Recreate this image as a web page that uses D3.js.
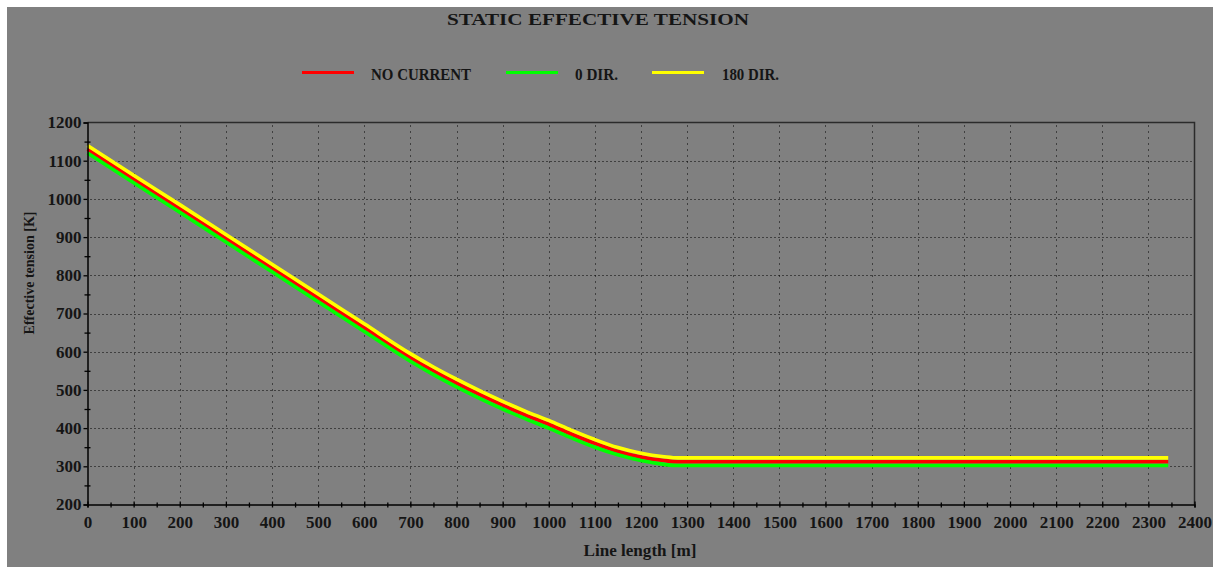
<!DOCTYPE html>
<html>
<head>
<meta charset="utf-8">
<script src="https://cdn.jsdelivr.net/npm/d3@7"></script>
<style>
    body { margin: 0; background: #ffffff; }
    svg text { font-family: "Liberation Serif", "Times New Roman", serif; font-weight: bold; fill: #151515; }
</style>
</head>
<body>
<div id="chart"></div>
<script>
// line length [m]
var lengths = [0, 100, 200, 300, 400, 500, 600, 700, 750, 800, 850, 900, 950, 1000, 1050, 1100, 1150, 1200, 1250, 1280, 2343];
// effective tension [K]
var noCurrent = [1130, 1052, 975, 897, 819, 741, 663, 585, 550, 518, 488, 460, 434, 410, 384, 360, 339, 324, 315, 312, 312];
var dir0 = [1120, 1042, 965, 887, 809, 731, 653, 575, 540, 508, 478, 450, 424, 400, 374, 350, 330, 315, 305, 302, 302];
var dir180 = [1140, 1062, 985, 907, 829, 751, 673, 595, 560, 528, 498, 470, 444, 420, 394, 370, 349, 334, 325, 322, 322];

var seriesNames = ["NO CURRENT", "0 DIR.", "180 DIR."];
var seriesColors = ["#ff0000", "#00ff00", "#ffff00"];

var xTicks = d3.range(0, 2401, 100);
var yTicks = d3.range(200, 1201, 100);

var w = 1213;
var h = 567;
var padLeft = 87.5, padTop = 122.5, padRight = 1194.5, padBottom = 504.5;

var svg = d3.select("#chart").append("svg")
    .attr("width", w)
    .attr("height", h);

// gray panel
svg.append("rect")
    .attr("x", 7)
    .attr("y", 7)
    .attr("width", w - 7)
    .attr("height", h - 7)
    .style("fill", "#808080");

var xScale = d3.scaleLinear([0, 2400], [padLeft, padRight]);
var yScale = d3.scaleLinear([200, 1200], [padBottom, padTop]);

// grid
svg.append("g").selectAll("line")
    .data(xTicks.filter(d => d > 0 && d < 2400))
    .join("line")
    .attr("x1", d => Math.round(xScale(d)) + 0.5)
    .attr("x2", d => Math.round(xScale(d)) + 0.5)
    .attr("y1", padTop + 3)
    .attr("y2", padBottom)
    .style("stroke", "#000")
    .style("stroke-dasharray", "1 5");

svg.append("g").selectAll("line")
    .data(yTicks.filter(d => d > 200 && d < 1200))
    .join("line")
    .attr("x1", padLeft + 3)
    .attr("x2", padRight - 3)
    .attr("y1", d => Math.round(yScale(d)) + 0.5)
    .attr("y2", d => Math.round(yScale(d)) + 0.5)
    .style("stroke", "#000")
    .style("stroke-dasharray", "1 3");

// frame top / right
svg.append("path")
    .attr("d", "M" + padLeft + "," + padTop + "H" + padRight + "V" + padBottom)
    .style("fill", "none")
    .style("stroke", "#2b2b2b")
    .style("stroke-width", 1.5);

// series
var allSeries = [noCurrent, dir0, dir180];
var line = d3.line()
    .x((d, i) => xScale(lengths[i]))
    .y(d => yScale(d))
    .curve(d3.curveMonotoneX);

svg.append("g").selectAll("path")
    .data(allSeries)
    .join("path")
    .attr("d", d => line(d))
    .style("fill", "none")
    .style("stroke", (d, i) => seriesColors[i])
    .style("stroke-width", 3.6);

// axes
var xAxis = d3.axisBottom(xScale)
    .tickValues(xTicks)
    .tickFormat(d3.format("d"))
    .tickSize(3)
    .tickPadding(8);

var xMinor = d3.axisBottom(xScale)
    .tickValues(d3.range(50, 2400, 100))
    .tickSize(3)
    .tickFormat("");

var yAxis = d3.axisLeft(yScale)
    .tickValues(yTicks)
    .tickFormat(d3.format("d"))
    .tickSize(4)
    .tickPadding(2);

var yMinor = d3.axisLeft(yScale)
    .tickValues(d3.range(250, 1200, 100))
    .tickSize(3)
    .tickFormat("");

function styleAxis(g) {
    g.select(".domain").style("stroke", "#000").style("stroke-width", 1.5);
    g.selectAll(".tick line").style("stroke", "#000").style("stroke-width", 1.3);
    g.selectAll(".tick text").style("font-size", "17px").style("fill", "#151515")
        .style("font-family", "'Liberation Serif', serif").style("font-weight", "bold");
}

svg.append("g")
    .attr("transform", "translate(0," + padBottom + ")")
    .call(xAxis)
    .call(styleAxis)
    .selectAll(".tick line").attr("y1", -3);

svg.append("g")
    .attr("transform", "translate(0," + padBottom + ")")
    .call(xMinor)
    .call(styleAxis)
    .call(g => g.select(".domain").remove())
    .selectAll(".tick line").attr("y1", -2);

svg.append("g")
    .attr("transform", "translate(" + padLeft + ",0)")
    .call(yAxis)
    .call(styleAxis);

svg.append("g")
    .attr("transform", "translate(" + padLeft + ",0)")
    .call(yMinor)
    .call(styleAxis)
    .call(g => g.select(".domain").remove())
    .selectAll(".tick line").attr("x1", 3);

// titles
svg.append("text")
    .attr("x", 598)
    .attr("y", 25)
    .attr("text-anchor", "middle")
    .style("font-size", "17px")
    .attr("textLength", 302)
    .attr("lengthAdjust", "spacingAndGlyphs")
    .text("STATIC EFFECTIVE TENSION");

svg.append("text")
    .attr("x", 640)
    .attr("y", 556)
    .attr("text-anchor", "middle")
    .style("font-size", "17px")
    .attr("textLength", 113)
    .attr("lengthAdjust", "spacingAndGlyphs")
    .text("Line length [m]");

svg.append("text")
    .attr("transform", "translate(34,273) rotate(-90)")
    .attr("text-anchor", "middle")
    .style("font-size", "14px")
    .text("Effective tension [K]");

// legend
var legendLineX = [302, 506, 652];
var legendTextX = [371, 575, 722];
var legendTextW = [100, 43, 57];

var legend = svg.append("g").selectAll("g")
    .data(seriesNames)
    .join("g");

legend.append("line")
    .attr("x1", (d, i) => legendLineX[i])
    .attr("x2", (d, i) => legendLineX[i] + 52)
    .attr("y1", 72.5)
    .attr("y2", 72.5)
    .style("stroke", (d, i) => seriesColors[i])
    .style("stroke-width", 3);

legend.append("text")
    .attr("x", (d, i) => legendTextX[i])
    .attr("y", 80)
    .style("font-size", "17.5px")
    .attr("textLength", (d, i) => legendTextW[i])
    .attr("lengthAdjust", "spacingAndGlyphs")
    .text(d => d);
</script>
</body>
</html>
